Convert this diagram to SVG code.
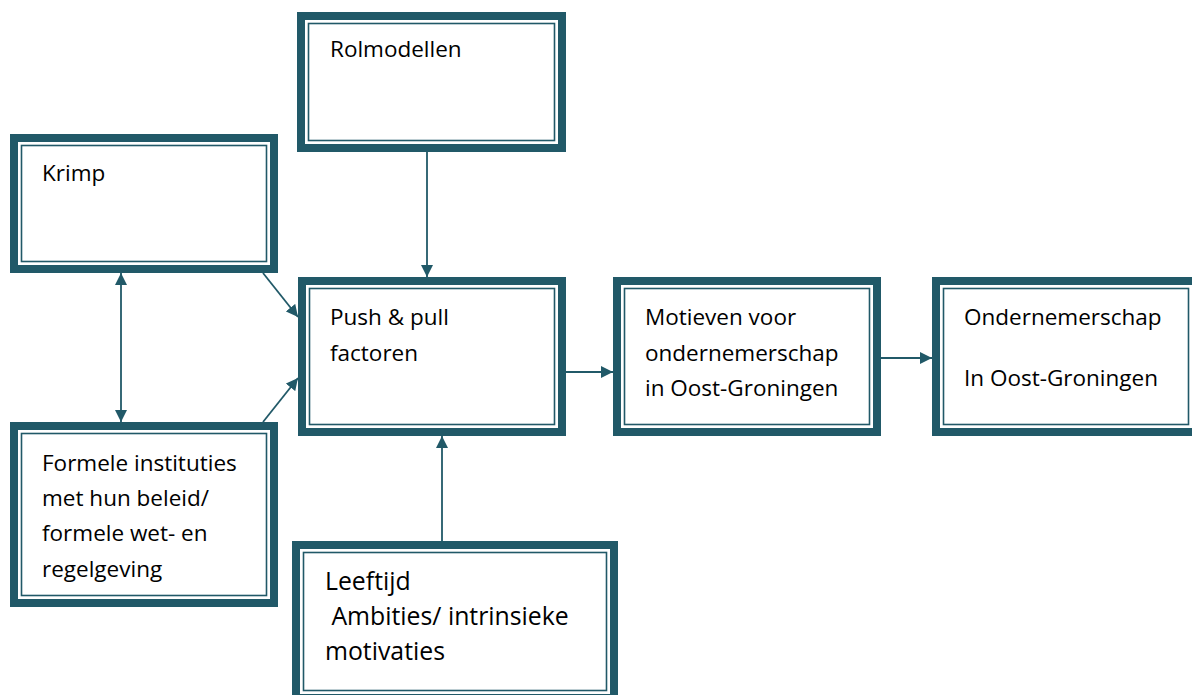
<svg xmlns="http://www.w3.org/2000/svg" width="1192" height="695" viewBox="0 0 1192 695">
<style>
.outer{fill:#fff;stroke:#215968;stroke-width:8}
.inner{fill:none;stroke:#215968;stroke-width:1.6}
.t{font-family:"Open Sans","Liberation Sans",sans-serif;font-size:22.5px;fill:#000}
.tl{font-size:24.8px}
.c{stroke:#215968;stroke-width:1.8;fill:none}
</style>
<defs>
<marker id="ah" viewBox="0 0 12 12" refX="12" refY="6" markerWidth="12" markerHeight="12" markerUnits="userSpaceOnUse" orient="auto-start-reverse">
<path d="M0,0 L12,6 L0,12 z" fill="#215968"/>
</marker>
</defs>
<rect width="1192" height="695" fill="#fff"/>
<g id="connectors">
<line class="c" x1="427" y1="152" x2="427" y2="277" marker-end="url(#ah)"/>
<line class="c" x1="263" y1="273" x2="298" y2="317" marker-end="url(#ah)"/>
<line class="c" x1="263" y1="422" x2="298" y2="378" marker-end="url(#ah)"/>
<line class="c" x1="121" y1="273" x2="121" y2="422" marker-start="url(#ah)" marker-end="url(#ah)"/>
<line class="c" x1="442" y1="541" x2="442" y2="436" marker-end="url(#ah)"/>
<line class="c" x1="566" y1="372" x2="613" y2="372" marker-end="url(#ah)"/>
<line class="c" x1="881" y1="358" x2="932" y2="358" marker-end="url(#ah)"/>
</g>
<g id="rolmodellen">
<rect class="outer" x="301" y="16" width="261" height="132"/>
<rect class="inner" x="308.5" y="23.5" width="246" height="117"/>
<text class="t" x="330" y="57">Rolmodellen</text>
</g>
<g id="krimp">
<rect class="outer" x="14" y="138" width="260" height="131"/>
<rect class="inner" x="21.5" y="145.5" width="245" height="116"/>
<text class="t" x="42" y="181">Krimp</text>
</g>
<g id="push">
<rect class="outer" x="302" y="281" width="260" height="151"/>
<rect class="inner" x="309.5" y="288.5" width="245" height="136"/>
<text class="t" x="330" y="325">Push &amp; pull</text>
<text class="t" x="330" y="361">factoren</text>
</g>
<g id="motieven">
<rect class="outer" x="617" y="281" width="260" height="151"/>
<rect class="inner" x="624.5" y="288.5" width="245" height="136"/>
<text class="t" x="645" y="325">Motieven voor</text>
<text class="t" x="645" y="361">ondernemerschap</text>
<text class="t" x="645" y="396">in Oost-Groningen</text>
</g>
<g id="ondernemerschap">
<rect class="outer" x="936" y="281" width="260" height="151"/>
<rect class="inner" x="943.5" y="288.5" width="245" height="136"/>
<text class="t" x="964" y="325">Ondernemerschap</text>
<text class="t" x="964" y="386">In Oost-Groningen</text>
</g>
<g id="formele">
<rect class="outer" x="14" y="426" width="260" height="177"/>
<rect class="inner" x="21.5" y="433.5" width="245" height="162"/>
<text class="t" x="42" y="471">Formele instituties</text>
<text class="t" x="42" y="506">met hun beleid/</text>
<text class="t" x="42" y="541">formele wet- en</text>
<text class="t" x="42" y="577">regelgeving</text>
</g>
<g id="leeftijd">
<rect class="outer" x="296" y="545" width="318" height="153"/>
<rect class="inner" x="303.5" y="552.5" width="303" height="138"/>
<text class="t tl" x="325" y="590">Leeftijd</text>
<text class="t tl" x="325" y="625" xml:space="preserve"> Ambities/ intrinsieke</text>
<text class="t tl" x="325" y="660">motivaties</text>
</g>
</svg>
